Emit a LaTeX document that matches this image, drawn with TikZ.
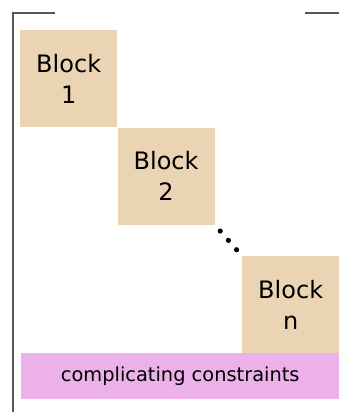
\documentclass[tikz,border=0pt]{standalone}
\usepackage{fontspec}
\setmainfont{DejaVu Sans}
\usetikzlibrary{calc}

\definecolor{blocktan}{HTML}{EBD4B4}
\definecolor{linkpink}{HTML}{EBB1E8}
\definecolor{rulegray}{HTML}{555555}

\tikzset{
  block/.style={fill=blocktan, minimum width=97pt, minimum height=97pt,
    inner sep=0pt, anchor=north west, align=center,
    font=\fontsize{24}{31}\selectfont},
  linking/.style={fill=linkpink, minimum width=318pt, minimum height=46pt,
    inner sep=0pt, anchor=north west, font=\fontsize{19.4}{23}\selectfont}
}

\begin{document}
\begin{tikzpicture}[x=1pt, y=-1pt]

      \useasboundingbox (0,0) rectangle (339,412) ;

      % the matrix bracket
      \draw [rulegray, line width=2pt] (55,13) -- (13,13) -- (13,413) ;
      \draw [rulegray, line width=2pt] (305,13) -- (340,13) ;

      \node [block] (b1) at (20,30) {Block\\1} ;
      \node [block] (b2) at (b1.south east) {Block\\2} ;
      \node [block] (bn) at (242,256) {Block\\n} ;

      \node [linking] (cc) at (21,353) {complicating constraints} ;

      \foreach \t in {0.2, 0.5, 0.8}
        \fill ($(b2.south east)!\t!(bn.north west)$) circle [radius=2.6pt] ;

    \end{tikzpicture}
\end{document}
